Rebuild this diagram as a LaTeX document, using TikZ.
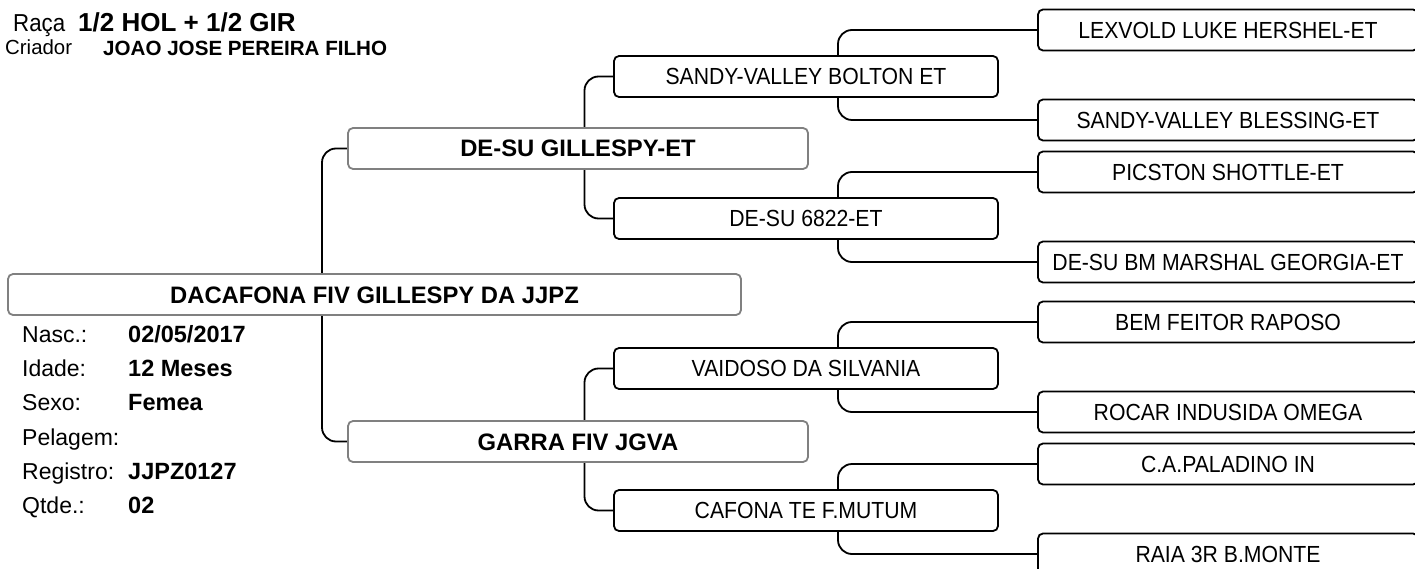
\documentclass[tikz,border=0pt]{standalone}
\usepackage{fontspec}
\setmainfont{Liberation Sans}
\newfontfamily\narrowfont[FakeStretch=0.91]{Liberation Sans}
\usetikzlibrary{backgrounds}
\definecolor{boxgray}{RGB}{128,128,128}
\begin{document}
\begin{tikzpicture}[x=1pt,y=-1pt,
  gbox/.style={draw=boxgray, line width=1.8pt, rounded corners=5pt, fill=white,
    minimum height=41pt, inner sep=0pt,
    font=\fontsize{23.8}{28}\selectfont\bfseries, text height=17pt, text depth=0pt},
  kbox/.style={draw=black, line width=1.8pt, rounded corners=5pt, fill=white,
    minimum height=41pt, inner sep=0pt,
    font=\narrowfont\fontsize{23.3}{27}\selectfont, text height=16.7pt, text depth=0pt},
  gone/.style={gbox, minimum width=460pt},
  gtwo/.style={kbox, minimum width=384pt},
  gthree/.style={kbox, minimum width=380pt},
  conn/.style={draw=black, line width=1.8pt, rounded corners=14pt},
  lab/.style={anchor=base west, inner sep=0pt, font=\fontsize{23}{27}\selectfont},
  val/.style={anchor=base west, inner sep=0pt, font=\fontsize{23.5}{27}\selectfont\bfseries}
]
\useasboundingbox (0,0) rectangle (1415,569);
\clip (0,0) rectangle (1415,569);

% header
\node[anchor=base west, inner sep=0pt, font=\narrowfont\fontsize{24.5}{28}\selectfont] (raca) at (13,32) {Raça};
\node[anchor=base west, inner sep=0pt, font=\fontsize{26}{30}\selectfont\bfseries] (racav) at (78,32) {1/2 HOL + 1/2 GIR};
\node[anchor=base west, inner sep=0pt, font=\fontsize{20.4}{24}\selectfont] (criador) at (5,55) {Criador};
\node[anchor=base west, inner sep=0pt, font=\fontsize{20.6}{24}\selectfont\bfseries] (criadorv) at (103,56) {JOAO JOSE PEREIRA FILHO};

% info
\node[lab] (l1) at (22,342) {Nasc.:};
\node[val] (v1) at (128,342) {02/05/2017};
\node[lab] (l2) at (22,376) {Idade:};
\node[val] (v2) at (128,376) {12 Meses};
\node[lab] (l3) at (22,410) {Sexo:};
\node[val] (v3) at (128,410) {Femea};
\node[lab] (l4) at (22,445) {Pelagem:};
\node[lab] (l5) at (22,479) {Registro:};
\node[val] (v5) at (128,479) {JJPZ0127};
\node[lab] (l6) at (22,513) {Qtde.:};
\node[val] (v6) at (128,513) {02};

% boxes
\node[gbox, minimum width=733pt] (main) at (374.5,294.5) {DACAFONA FIV GILLESPY DA JJPZ};
\node[gone] (s) at (578,148.5) {DE-SU GILLESPY-ET};
\node[gone] (d) at (578,441.5) {GARRA FIV JGVA};

\node[gtwo] (ss) at (806,76.5) {SANDY-VALLEY BOLTON ET};
\node[gtwo] (sd) at (806,218.5) {DE-SU 6822-ET};
\node[gtwo] (ds) at (806,368.5) {VAIDOSO DA SILVANIA};
\node[gtwo] (dd) at (806,510.5) {CAFONA TE F.MUTUM};

\node[gthree] (sss) at (1228,30) {LEXVOLD LUKE HERSHEL-ET};
\node[gthree] (ssd) at (1228,120) {SANDY-VALLEY BLESSING-ET};
\node[gthree] (sds) at (1228,172) {PICSTON SHOTTLE-ET};
\node[gthree] (sdd) at (1228,262) {DE-SU BM MARSHAL GEORGIA-ET};
\node[gthree] (dss) at (1228,322) {BEM FEITOR RAPOSO};
\node[gthree] (dsd) at (1228,412) {ROCAR INDUSIDA OMEGA};
\node[gthree] (dds) at (1228,464) {C.A.PALADINO IN};
\node[gthree] (ddd) at (1228,554) {RAIA 3R B.MONTE};

% junctions
\coordinate (j) at (322,294.5);
\coordinate (js) at (584.5,148.5);
\coordinate (jd) at (584.5,441.5);
\coordinate (jss) at (838,76.5);
\coordinate (jsd) at (838,218.5);
\coordinate (jds) at (838,368.5);
\coordinate (jdd) at (838,510.5);

\begin{scope}[on background layer]
\fill[white] (0,0) rectangle (1415,569);
\draw[conn] (s.west) -| (j) |- (d.west);
\draw[conn] (ss.west) -| (js) |- (sd.west);
\draw[conn] (ds.west) -| (jd) |- (dd.west);
\draw[conn] (sss.west) -| (jss) |- (ssd.west);
\draw[conn] (sds.west) -| (jsd) |- (sdd.west);
\draw[conn] (dss.west) -| (jds) |- (dsd.west);
\draw[conn] (dds.west) -| (jdd) |- (ddd.west);
\end{scope}
\end{tikzpicture}
\end{document}
